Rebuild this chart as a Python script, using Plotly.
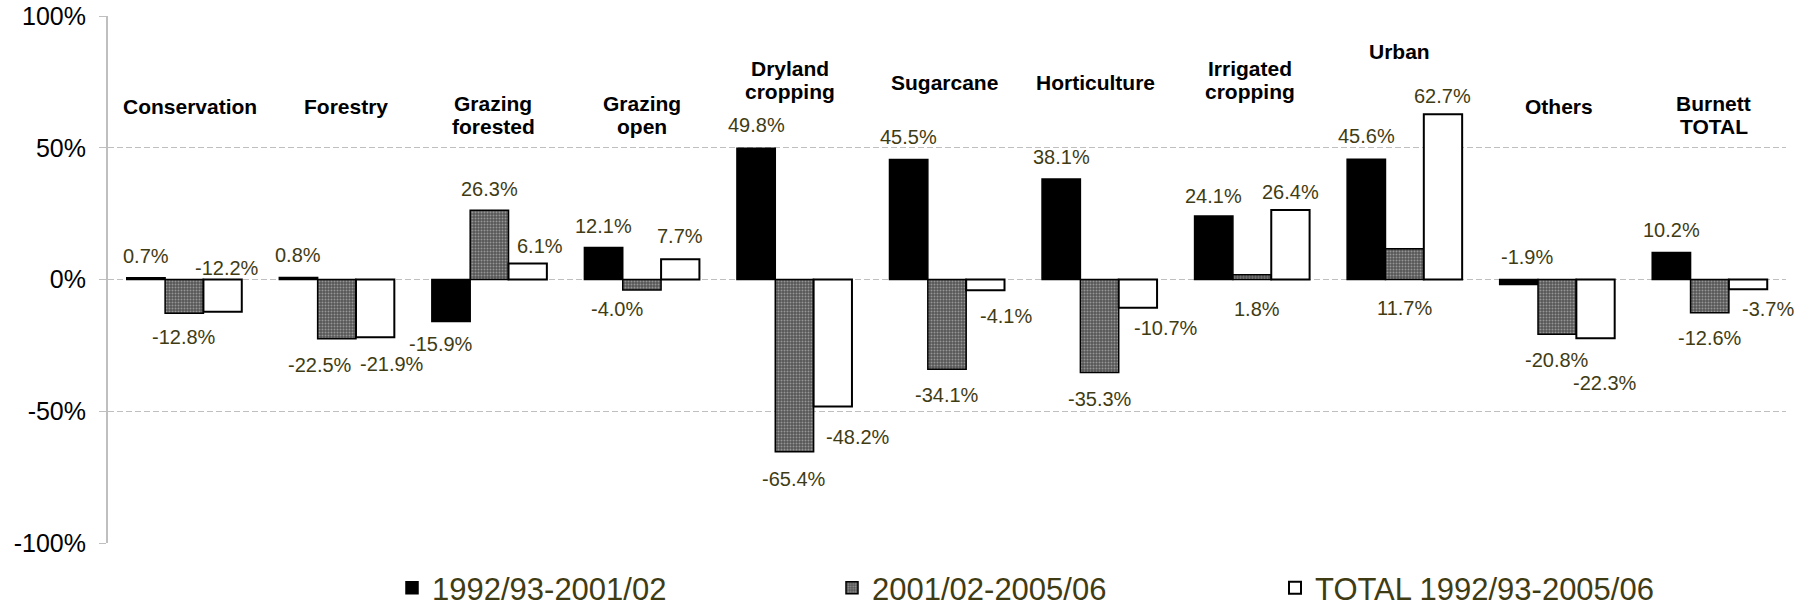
import plotly.graph_objects as go

# Land use categories (line breaks as shown above each group)
categories = [
    "Conservation", "Forestry", "Grazing\nforested", "Grazing\nopen",
    "Dryland\ncropping", "Sugarcane", "Horticulture", "Irrigated\ncropping",
    "Urban", "Others", "Burnett\nTOTAL",
]

# Percentage change in area for each period
series_names = ["1992/93-2001/02", "2001/02-2005/06", "TOTAL 1992/93-2005/06"]
change_1992_2001 = [0.7, 0.8, -15.9, 12.1, 49.8, 45.5, 38.1, 24.1, 45.6, -1.9, 10.2]
change_2001_2005 = [-12.8, -22.5, 26.3, -4.0, -65.4, -34.1, -35.3, 1.8, 11.7, -20.8, -12.6]
change_total = [-12.2, -21.9, 6.1, 7.7, -48.2, -4.1, -10.7, 26.4, 62.7, -22.3, -3.7]

y_ticks = [-100, -50, 0, 50, 100]
y_tick_text = ["-100%", "-50%", "0%", "50%", "100%"]

# Position of each category heading: height in axis units, nudge in pixels
heading_y = [65.8, 65.8, 62.3, 62.3, 75.9, 74.6, 74.6, 75.9, 86.7, 65.8, 62.3]
heading_dx = [6, 9, 4, 0, -4, -3, -4, -2, -5, 2, 4]

# Value-label nudges in pixels (dx right, dy up) relative to each bar end
label_dx = [
    [0, 0, -10, 0, 0, 0, 0, 0, 0, 8, 0],
    [0, -17, 0, -25, 0, 0, 0, 5, 0, 0, 0],
    [4, 17, 12, 0, 25, 21, 28, 0, 0, 9, 20],
]
label_dy = [
    [22, 22, -23, 22, 23, 23, 22, 20, 23, 28, 23],
    [-24, -26, 21, -19, -27, -26, -26, -34, -59, -26, -25],
    [44, -27, 17, 23, -30, -26, -20, 18, 18, -45, -20],
]

W, H = 1809, 608
M_L, M_R, M_T, M_B = 108, 23, 16, 65
BARGAP = 0.246
FONT = "Liberation Sans, Arial, sans-serif"
LABEL_COLOR = "#3f3c14"
HEADING_LINE = 23

plot_w = W - M_L - M_R
bar_w = plot_w / len(categories) * (1 - BARGAP) / 3

fig = go.Figure()

fig.add_trace(go.Bar(
    x=categories, y=change_1992_2001, name=series_names[0],
    marker=dict(color="#000000", line=dict(color="#000000", width=1.5)),
    legend="legend",
))
fig.add_trace(go.Bar(
    x=categories, y=change_2001_2005, name=series_names[1],
    marker=dict(
        color="#7a7a7a",
        line=dict(color="#000000", width=1.5),
        pattern=dict(shape=".", fgcolor="#d8d8d8", bgcolor="#555555",
                     size=3, solidity=0.35),
    ),
    legend="legend2",
))
fig.add_trace(go.Bar(
    x=categories, y=change_total, name=series_names[2],
    marker=dict(color="#ffffff", line=dict(color="#000000", width=2)),
    legend="legend3",
))

# Value labels
all_values = [change_1992_2001, change_2001_2005, change_total]
for s, vals in enumerate(all_values):
    for i, v in enumerate(vals):
        fig.add_annotation(
            x=categories[i], y=v, text=f"{v:.1f}%",
            xshift=(s - 1) * bar_w + label_dx[s][i], yshift=label_dy[s][i],
            showarrow=False,
            font=dict(family=FONT, size=20, color=LABEL_COLOR),
        )

# Category headings, one line at a time for tight line spacing
for i, c in enumerate(categories):
    lines = c.split("\n")
    n = len(lines)
    for j, line in enumerate(lines):
        fig.add_annotation(
            x=c, y=heading_y[i], text="<b>" + line + "</b>",
            xshift=heading_dx[i],
            yshift=((n - 1) / 2 - j) * HEADING_LINE,
            showarrow=False, align="center",
            font=dict(family=FONT, size=21, color="#000000"),
        )

legend_common = dict(
    orientation="h", xref="container", yref="container",
    xanchor="left", yanchor="middle", y=1 - 588 / H,
    bgcolor="rgba(0,0,0,0)", borderwidth=0,
    font=dict(family=FONT, size=31, color=LABEL_COLOR),
)

fig.update_layout(
    width=W, height=H,
    margin=dict(l=M_L, r=M_R, t=M_T, b=M_B, autoexpand=False),
    paper_bgcolor="#ffffff", plot_bgcolor="#ffffff",
    barmode="group", bargap=BARGAP, bargroupgap=0,
    showlegend=True,
    legend=dict(legend_common, x=392 / W),
    legend2=dict(legend_common, x=832 / W),
    legend3=dict(legend_common, x=1275 / W),
    xaxis=dict(
        showticklabels=False, showgrid=False, zeroline=False,
        showline=False, ticks="", automargin=False,
        range=[-0.5, len(categories) - 0.5],
    ),
    yaxis=dict(
        range=[-100, 100], tickmode="array",
        tickvals=y_ticks, ticktext=y_tick_text,
        showgrid=True, gridcolor="#bfbfbf", gridwidth=1, griddash="6px,3px",
        zeroline=False, automargin=False,
        showline=True, linecolor="#bfbfbf", linewidth=2,
        ticks="outside", ticklen=7, tickcolor="#bfbfbf",
        ticklabelstandoff=8,
        tickfont=dict(family=FONT, size=25, color="#000000"),
    ),
)

fig.write_html("out.html")
